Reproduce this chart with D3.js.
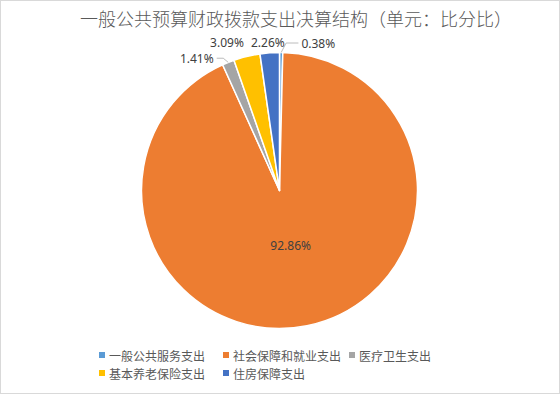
<!DOCTYPE html>
<html>
<head>
<meta charset="utf-8">
<script src="https://cdn.jsdelivr.net/npm/d3@7"></script>
<style>
    html, body { margin: 0; padding: 0; background: #fff; }
    svg { display: block; }
</style>
</head>
<body>
<div id="chart"></div>
<script>
// 数据
var categories = ["一般公共服务支出", "社会保障和就业支出", "医疗卫生支出", "基本养老保险支出", "住房保障支出"];
var shares = [0.38, 92.86, 1.41, 3.09, 2.26];
var colors = ["#5B9BD5", "#ED7D31", "#A5A5A5", "#FFC000", "#4472C4"];
var chartTitle = "一般公共预算财政拨款支出决算结构（单元：比分比）";

// 标签微调(布局用)
var labelNudge = [[37, 2.5], [0, 0], [-27, 7], [-17, -2], [-1, 2]];
var labelLeader = [true, false, true, false, false];

var W = 560, H = 394;
var cx = 279.5, cy = 190.5, R = 138;

var svg = d3.select("#chart").append("svg")
    .attr("width", W)
    .attr("height", H);

svg.append("rect")
    .attr("x", 0.5).attr("y", 0.5)
    .attr("width", W - 1).attr("height", H - 1)
    .attr("fill", "#fff")
    .attr("stroke", "#D9D9D9");

// title
svg.append("text")
    .attr("x", 296)
    .attr("y", 26)
    .attr("text-anchor", "middle")
    .style("font-family", "'Noto Sans CJK SC', sans-serif")
    .style("font-size", "18px")
    .style("font-weight", 300)
    .style("fill", "#595959")
    .text(chartTitle);

var rows = categories.map(function(c, i) {
    return { name: c, value: shares[i], color: colors[i], i: i };
});

var pie = d3.pie().sort(null).value(function(d) { return d.value; });
var arcs = pie(rows);
var arc = d3.arc().innerRadius(0).outerRadius(R);

var body_g = svg.append("g")
    .attr("transform", "translate(" + cx + "," + cy + ")");

body_g.selectAll("path.slice")
    .data(arcs)
    .enter()
    .append("path")
    .attr("class", "slice")
    .attr("d", arc)
    .attr("fill", function(d) { return d.data.color; })
    .attr("stroke", "#fff")
    .attr("stroke-width", 1.5)
    .attr("stroke-linejoin", "round");

function polar(a, r) {
    return [Math.sin(a) * r, -Math.cos(a) * r];
}

var labelFont = "'Noto Sans', 'Open Sans', sans-serif";

arcs.forEach(function(d) {
    var i = d.data.i;
    var mid = (d.startAngle + d.endAngle) / 2;
    var txt = d.data.value.toFixed(2) + "%";
    var pos;
    if (d.data.value > 50) {
        pos = polar(mid, 56);
    } else {
        pos = polar(mid, 150);
        pos = [pos[0] + labelNudge[i][0], pos[1] + labelNudge[i][1]];
    }
    var t = body_g.append("text")
        .attr("x", pos[0])
        .attr("y", pos[1])
        .attr("text-anchor", "middle")
        .attr("dominant-baseline", "central")
        .style("font-family", labelFont)
        .style("font-size", "12px")
        .style("fill", "#404040")
        .text(txt);

    if (labelLeader[i]) {
        var tw = t.node().getComputedTextLength();
        var p0 = polar(mid, R);
        var dir = pos[0] > p0[0] ? 1 : -1;
        var p1 = [p0[0] + dir * 5, pos[1]];
        var p2 = [pos[0] - dir * (tw / 2 + 3), pos[1]];
        body_g.append("path")
            .attr("d", d3.line()([p0, p1, p2]))
            .attr("fill", "none")
            .attr("stroke", "#A6A6A6")
            .attr("stroke-width", 0.75);
    }
});

// 图例
var legendCols = [99, 223, 349];
var legendRows = [355, 373];
var legendOrder = [[0, 1, 2], [3, 4]];

var legend_g = svg.append("g").attr("class", "legend");
legendOrder.forEach(function(row, r) {
    row.forEach(function(idx, c) {
        var g = legend_g.append("g")
            .attr("transform", "translate(" + legendCols[c] + "," + legendRows[r] + ")");
        g.append("rect")
            .attr("x", 0).attr("y", -3)
            .attr("width", 6).attr("height", 6)
            .attr("fill", colors[idx]);
        g.append("text")
            .attr("x", 10)
            .attr("y", 0)
            .attr("dominant-baseline", "central")
            .style("font-family", "'Noto Sans CJK SC', sans-serif")
            .style("font-size", "12px")
            .style("fill", "#595959")
            .text(categories[idx]);
    });
});
</script>
</body>
</html>
